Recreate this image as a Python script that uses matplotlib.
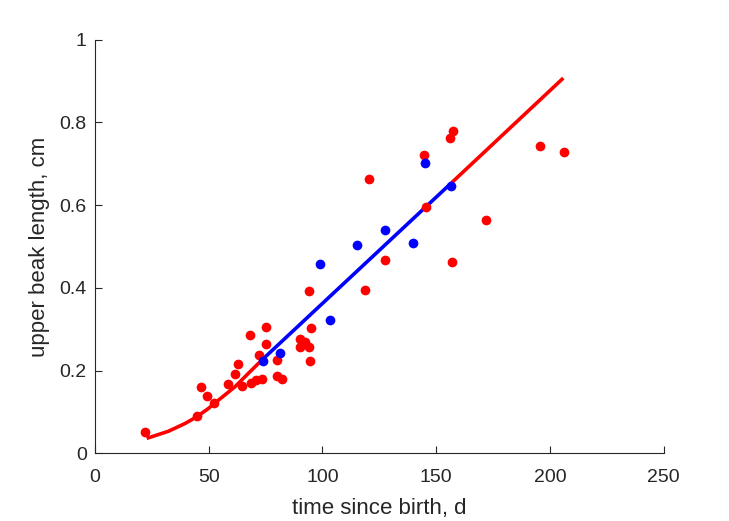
import matplotlib
matplotlib.use("Agg")
import matplotlib.pyplot as plt

# Red data points (time since birth, d ; upper beak length, cm)
red_x = [22.0, 44.7, 46.7, 49.4, 52.3, 58.4, 61.4, 63.0, 64.6, 68.2, 68.6, 70.8,
         72.1, 73.3, 75.2, 75.2, 80.2, 80.2, 82.2, 90.0, 90.3, 92.2, 94.0, 94.4,
         94.0, 95.0, 118.7, 120.4, 127.4, 144.7, 145.7, 156.2, 157.3, 157.0,
         171.8, 195.6, 206.2]
red_y = [0.052, 0.090, 0.161, 0.139, 0.122, 0.167, 0.192, 0.217, 0.162, 0.287, 0.169, 0.178,
         0.237, 0.180, 0.305, 0.263, 0.225, 0.187, 0.180, 0.277, 0.257, 0.269, 0.257, 0.222,
         0.392, 0.303, 0.395, 0.663, 0.467, 0.722, 0.596, 0.761, 0.780, 0.462,
         0.563, 0.743, 0.729]

# Blue data points
blue_x = [73.7, 81.4, 99.1, 103.5, 115.2, 127.4, 140.0, 145.1, 156.7]
blue_y = [0.224, 0.243, 0.458, 0.323, 0.503, 0.540, 0.509, 0.701, 0.646]

# Fitted curve pieces
fit_red1_x = [22.7, 32.2, 39.6, 44.7, 49.8, 54.2, 61.6, 67.4, 73.3]
fit_red1_y = [0.036, 0.053, 0.072, 0.088, 0.108, 0.128, 0.161, 0.193, 0.225]
fit_blue_x = [73.3, 156.8]
fit_blue_y = [0.225, 0.654]
fit_red2_x = [156.8, 205.9]
fit_red2_y = [0.654, 0.907]

x_ticks = [0, 50, 100, 150, 200, 250]
y_ticks = [0, 0.2, 0.4, 0.6, 0.8, 1]

plt.rcParams['font.family'] = ['Liberation Sans', 'DejaVu Sans']
txt = '#262626'

fig = plt.figure(figsize=(7.29, 5.21), dpi=100)
ax = fig.add_axes([0.1303, 0.130, 0.780, 0.794])

ax.plot(fit_red1_x, fit_red1_y, color='red', lw=2.6, solid_capstyle='butt', zorder=2)
ax.plot(fit_blue_x, fit_blue_y, color='blue', lw=2.6, solid_capstyle='butt', zorder=2)
ax.plot(fit_red2_x, fit_red2_y, color='red', lw=2.6, solid_capstyle='butt', zorder=2)

ax.plot(red_x, red_y, 'o', color='red', ms=7, mec='none', zorder=3)
ax.plot(blue_x, blue_y, 'o', color='blue', ms=7, mec='none', zorder=3)

ax.set_xlim(0, 250)
ax.set_ylim(0, 1)
ax.set_xticks(x_ticks)
ax.set_xticklabels([str(t) for t in x_ticks])
ax.set_yticks(y_ticks)
ax.set_yticklabels(['0', '0.2', '0.4', '0.6', '0.8', '1'])

for s in ['top', 'right']:
    ax.spines[s].set_visible(False)
for s in ['left', 'bottom']:
    ax.spines[s].set_color(txt)
    ax.spines[s].set_linewidth(0.8)

ax.tick_params(direction='in', length=5, width=0.8, colors=txt, labelsize=14)
ax.tick_params(axis='x', pad=11)
ax.tick_params(axis='y', pad=6)
ax.set_xlabel('time since birth, d', fontsize=16, color=txt, labelpad=9)
ax.set_ylabel('upper beak length, cm', fontsize=16, color=txt, labelpad=7)

fig.savefig('out.png', dpi=100)
